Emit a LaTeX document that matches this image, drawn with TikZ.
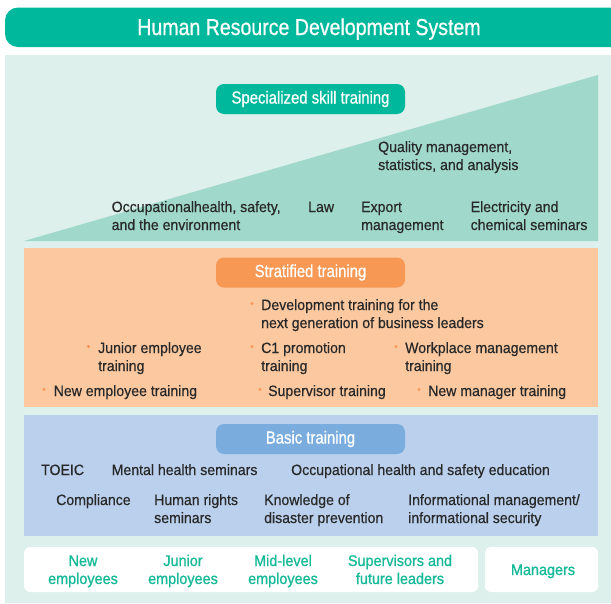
\documentclass[tikz,border=0pt]{standalone}
\usepackage{fontspec}
\setmainfont{Liberation Sans}
\newfontfamily\bodyfont[FakeStretch=0.94,FakeBold=0.45]{Liberation Sans}
\newfontfamily\levelfont[FakeStretch=0.93,FakeBold=1.0]{Liberation Sans}
\newfontfamily\titlefont[FakeStretch=0.85,FakeBold=0.7]{Liberation Sans}
\definecolor{teal}{RGB}{0,184,155}
\definecolor{mint}{RGB}{221,240,235}
\definecolor{tri}{RGB}{160,216,203}
\definecolor{peach}{RGB}{251,200,160}
\definecolor{orangeb}{RGB}{247,152,84}
\definecolor{bluep}{RGB}{186,208,236}
\definecolor{blueb}{RGB}{122,173,222}
\definecolor{txt}{RGB}{40,40,40}
\definecolor{greentxt}{RGB}{22,186,152}
\definecolor{bul}{RGB}{246,150,85}
\tikzset{
  body/.style={font=\bodyfont\fontsize{15}{18}\selectfont, text=txt, inner sep=0pt, align=left, anchor=base west},
  badge/.style={rounded corners=8pt, minimum width=189pt, minimum height=30pt, inner sep=0pt,
    text=white, font=\titlefont\fontsize{17.5}{20}\selectfont},
  level/.style={font=\levelfont\fontsize{15.5}{18}\selectfont, text=greentxt, inner sep=0pt, align=center, anchor=base},
  bulletdot/.style={fill=bul}
}
\begin{document}
\begin{tikzpicture}[x=1pt,y=-1pt]
\useasboundingbox (0,0) rectangle (611,603);
\clip (0,0) rectangle (611,603);
% title bar
\fill[teal, rounded corners=13pt] (5,7.5) rectangle (630,47);
\node[font=\titlefont\fontsize{23}{26}\selectfont, text=white, inner sep=0pt, anchor=base] (title) at (309,35) {Human Resource Development System};
% background
\fill[mint] (5,55) rectangle (630,603);
% triangle
\fill[tri] (24,241) -- (598,75) -- (598,241) -- cycle;
\node[badge, fill=teal] (spec) at (310.5,99) {Specialized skill training};
% multi-line nodes: base anchor = baseline of last line
\node[body] (qual) at (378,170) {Quality management,\\statistics, and analysis};
\node[body] (occ) at (111.5,230) {Occupationalhealth, safety,\\and the environment};
\node[body] (law) at (308,212) {Law};
\node[body] (exp) at (361,230) {Export\\management};
\node[body] (elec) at (470.5,230) {Electricity and\\chemical seminars};
% stratified
\fill[peach] (24,248) rectangle (598,406.5);
\node[badge, fill=orangeb] (strat) at (310.5,272.5) {Stratified training};
\node[body] (dev) at (261,328) {Development training for the\\next generation of business leaders};
\node[body] (jun) at (98,371) {Junior employee\\training};
\node[body] (c1) at (261,371) {C1 promotion\\training};
\node[body] (work) at (405,371) {Workplace management\\training};
\node[body] (newe) at (53.5,396) {New employee training};
\node[body] (sup) at (268,396) {Supervisor training};
\node[body] (newm) at (428,396) {New manager training};
\fill[bulletdot] (252,303.5) circle (1.7);
\fill[bulletdot] (88.5,346.5) circle (1.7);
\fill[bulletdot] (252,346.5) circle (1.7);
\fill[bulletdot] (396,346.5) circle (1.7);
\fill[bulletdot] (44,389.5) circle (1.7);
\fill[bulletdot] (260,389.5) circle (1.7);
\fill[bulletdot] (419,389.5) circle (1.7);
% basic
\fill[bluep] (24,415) rectangle (598,536);
\node[badge, fill=blueb] (basic) at (310.5,439) {Basic training};
\node[body] (toeic) at (41,475) {TOEIC};
\node[body] (mental) at (111.5,475) {Mental health seminars};
\node[body] (ohs) at (291,475) {Occupational health and safety education};
\node[body] (comp) at (56,505) {Compliance};
\node[body] (human) at (154,523) {Human rights\\seminars};
\node[body] (know) at (264,523) {Knowledge of\\disaster prevention};
\node[body] (info) at (408,523) {Informational management/\\informational security};
% levels
\fill[white, rounded corners=6pt] (24,547) rectangle (478,592);
\fill[white, rounded corners=6pt] (485,547) rectangle (598,592);
\node[level] (l1) at (83,584) {New\\employees};
\node[level] (l2) at (183,584) {Junior\\employees};
\node[level] (l3) at (283,584) {Mid-level\\employees};
\node[level] (l4) at (400,584) {Supervisors and\\future leaders};
\node[level] (l5) at (543,575) {Managers};
\end{tikzpicture}
\end{document}
